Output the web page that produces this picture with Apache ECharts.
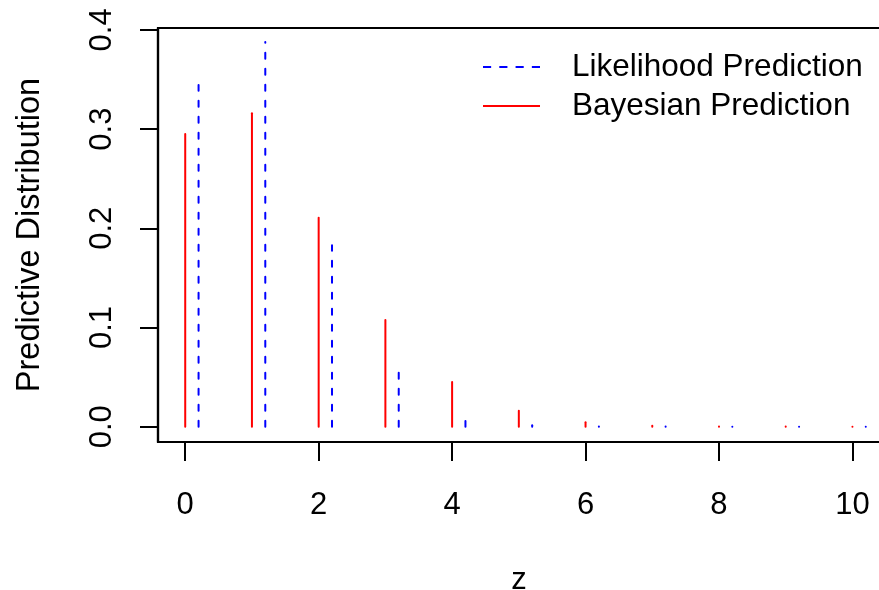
<!DOCTYPE html>
<html>
<head>
<meta charset="utf-8">
<script src="https://cdn.jsdelivr.net/npm/echarts@6/dist/echarts.min.js"></script>
<style>
  html, body { margin: 0; padding: 0; background: #fff; }
  #chart { width: 879px; height: 590px; }
</style>
</head>
<body>
<div id="chart"></div>
<script>
// z values and the two predictive distributions
var zValues = [0, 1, 2, 3, 4, 5, 6, 7, 8, 9, 10];
var likelihoodOffset = 0.2;
var likelihoodPred = [0.3445, 0.3878, 0.183, 0.0545, 0.0058, 0.0014, 0.0003, 0.0001, 0.00003, 0.00001, 0.000003];
var bayesianPred = [0.295, 0.316, 0.2107, 0.1076, 0.045, 0.016, 0.0046, 0.001, 0.0003, 0.0001, 0.00003];
var yTicks = [0, 0.1, 0.2, 0.3, 0.4];
var xTicks = [0, 2, 4, 6, 8, 10];

var FONT = '"Liberation Sans", Arial, Helvetica, sans-serif';

var chart = echarts.init(document.getElementById('chart'));

// vertical spike from 0 up to the value (R type = "h")
function spikes(color, dash) {
  return function (params, api) {
    var base = api.coord([api.value(0), 0]);
    var top = api.coord([api.value(0), api.value(1)]);
    return {
      type: 'line',
      shape: { x1: base[0], y1: base[1], x2: top[0], y2: top[1] },
      style: { stroke: color, lineWidth: 2, lineCap: 'round', lineDash: dash }
    };
  };
}

var option = {
  animation: false,
  backgroundColor: '#fff',
  textStyle: { fontFamily: FONT },
  grid: {
    left: 158, top: 28, bottom: 148, right: -14,
    outerBoundsMode: 'none',
    containLabel: false,
    show: true, borderColor: '#000', borderWidth: 2.2, backgroundColor: 'transparent'
  },
  legend: {
    orient: 'vertical',
    left: 483, top: 51,
    padding: 0,
    itemWidth: 57, itemHeight: 2,
    itemGap: 7,
    symbolKeepAspect: false,
    data: [
      { name: 'Likelihood Prediction', icon: 'path://M0,0h8v2h-8z M16,0h8v2h-8z M32,0h8v2h-8z M48,0h8v2h-8z' },
      { name: 'Bayesian Prediction', icon: 'rect' }
    ],
    textStyle: { fontSize: 31.5, color: '#000', fontFamily: FONT, padding: [0, 0, 0, 27] },
    selectedMode: false
  },
  xAxis: {
    type: 'value',
    min: -0.408, max: 10.608,
    name: 'z',
    nameLocation: 'middle',
    nameGap: 123,
    nameTextStyle: { fontSize: 31, color: '#000', padding: [0, 13, 0, 0] },
    splitLine: { show: false },
    axisLine: { show: true, onZero: false, lineStyle: { color: '#000', width: 2.2 } },
    axisTick: { show: true, inside: false, customValues: xTicks, length: 19, lineStyle: { color: '#000', width: 2 } },
    axisLabel: { customValues: xTicks, fontSize: 31, color: '#000', margin: 48 }
  },
  yAxis: {
    type: 'value',
    min: -0.0154, max: 0.4019,
    name: 'Predictive Distribution',
    nameLocation: 'middle',
    nameRotate: 90,
    nameGap: 111,
    nameTextStyle: { fontSize: 32.5, color: '#000' },
    splitLine: { show: false },
    axisLine: { show: true, onZero: false, lineStyle: { color: '#000', width: 2.2 } },
    axisTick: { show: true, inside: false, customValues: yTicks, length: 18, lineStyle: { color: '#000', width: 2 } },
    axisLabel: {
      customValues: yTicks, rotate: 90, fontSize: 31, color: '#000', margin: 40,
      formatter: function (v) { return v.toFixed(1); }
    }
  },
  series: [
    {
      name: 'Likelihood Prediction',
      type: 'custom',
      renderItem: spikes('#0000ff', [6, 10]),
      itemStyle: { color: '#0000ff' },
      data: zValues.map(function (z, i) { return [z + likelihoodOffset, likelihoodPred[i]]; })
    },
    {
      name: 'Bayesian Prediction',
      type: 'custom',
      renderItem: spikes('#ff0000', null),
      itemStyle: { color: '#ff0000' },
      data: zValues.map(function (z, i) { return [z, bayesianPred[i]]; })
    }
  ]
};

chart.setOption(option);
</script>
</body>
</html>
